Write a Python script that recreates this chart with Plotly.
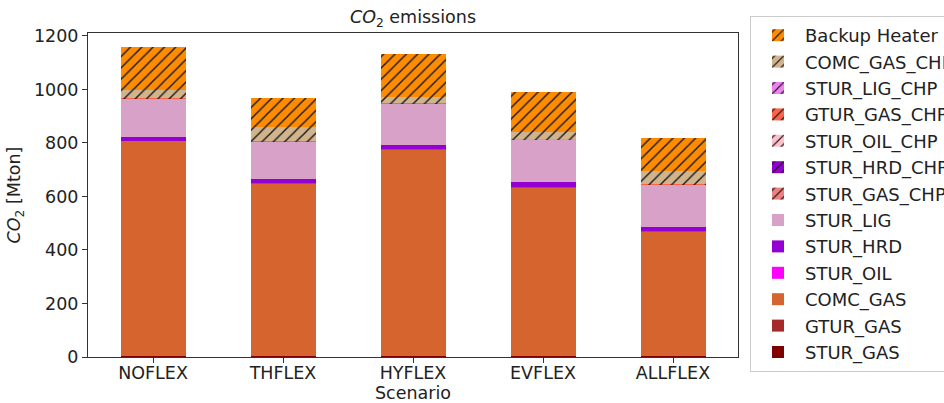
import plotly.graph_objects as go

scenarios = ["NOFLEX", "THFLEX", "HYFLEX", "EVFLEX", "ALLFLEX"]

# CO2 emissions per technology [Mton], stacked bottom-up
stur_gas      = [3, 3, 3, 3, 3]
gtur_gas      = [0, 0, 0, 0, 0]
comc_gas      = [805, 645, 773, 632, 467]
stur_oil      = [1, 1, 1, 1, 1]
stur_hrd      = [15, 16, 15, 17, 15]
stur_lig      = [143, 142, 155, 160, 159]
stur_gas_chp  = [0, 0, 0, 0, 0]
stur_hrd_chp  = [0, 0, 0, 0, 0]
stur_oil_chp  = [0, 0, 0, 0, 0]
gtur_gas_chp  = [2, 2, 1, 0, 1]
stur_lig_chp  = [0, 0, 0, 1, 0]
comc_gas_chp  = [30, 52, 25, 28, 50]
backup_heater = [160, 106, 160, 149, 121]

series = [
    ("STUR_GAS", stur_gas, "#800000", False),
    ("GTUR_GAS", gtur_gas, "#A52A2A", False),
    ("COMC_GAS", comc_gas, "#D5642E", False),
    ("STUR_OIL", stur_oil, "#FF00FF", False),
    ("STUR_HRD", stur_hrd, "#9400D3", False),
    ("STUR_LIG", stur_lig, "#D7A1C8", False),
    ("STUR_GAS_CHP", stur_gas_chp, "#F08080", True),
    ("STUR_HRD_CHP", stur_hrd_chp, "#9400D3", True),
    ("STUR_OIL_CHP", stur_oil_chp, "#FFC0CB", True),
    ("GTUR_GAS_CHP", gtur_gas_chp, "#FF6347", True),
    ("STUR_LIG_CHP", stur_lig_chp, "#EE82EE", True),
    ("COMC_GAS_CHP", comc_gas_chp, "#D2B48C", True),
    ("Backup Heater", backup_heater, "#FF8C00", True),
]

FONT = "DejaVu Sans"
TICK_FONT = dict(family=FONT, size=17.5, color="#222222")

fig = go.Figure()
for name, vals, color, hatched in series:
    marker = dict(color=color, line=dict(width=0))
    if hatched:
        marker["pattern"] = dict(shape="/", fgcolor="#1a1a1a", bgcolor=color,
                                 size=8, solidity=0.18, fillmode="replace")
    fig.add_trace(go.Bar(x=scenarios, y=vals, name=name, marker=marker,
                         width=0.5))

# invisible helper trace that carries the tick marks of the category axis
fig.add_trace(go.Scatter(x=scenarios, y=[0] * len(scenarios), xaxis="x2",
                         mode="none", showlegend=False, hoverinfo="skip"))

fig.update_layout(
    width=944, height=403,
    barmode="stack",
    plot_bgcolor="white", paper_bgcolor="white",
    margin=dict(l=88, r=206, t=33, b=46, autoexpand=False),
    font=dict(family=FONT, size=17.5, color="#222222"),
    title=dict(text="<i>CO</i><sub>2</sub> emissions", x=0.5, xref="paper",
               xanchor="center", y=1 - 17 / 403, yref="container",
               yanchor="middle", font=dict(family=FONT, size=17.5)),
    xaxis=dict(showline=True, linecolor="#333333", linewidth=1, mirror=True,
               ticks="", showgrid=False, zeroline=False, tickfont=TICK_FONT,
               range=[-0.5, 4.5],
               title=dict(text="Scenario", font=dict(family=FONT, size=17.5))),
    xaxis2=dict(overlaying="x", side="bottom", range=[-0.5, 4.5],
                ticks="outside", ticklen=5, tickcolor="#333333",
                showticklabels=False, showgrid=False, zeroline=False,
                showline=False, matches="x"),
    yaxis=dict(showline=True, linecolor="#333333", linewidth=1, mirror=True,
               ticks="outside", ticklen=5, tickcolor="#333333",
               showgrid=False, zeroline=False, tickfont=TICK_FONT,
               range=[0, 1211], tickvals=[0, 200, 400, 600, 800, 1000, 1200],
               title=dict(text="<i>CO</i><sub>2</sub> [Mton]", standoff=8,
                          font=dict(family=FONT, size=17.5))),
    legend=dict(x=(750 - 88) / 650, xanchor="left", y=1 + 17 / 324, yanchor="top",
                traceorder="reversed", bordercolor="#cccccc", borderwidth=1,
                bgcolor="white", itemwidth=44, maxheight=380,
                font=dict(family=FONT, size=18, color="#222222")),
)

fig.write_html("out.html")
